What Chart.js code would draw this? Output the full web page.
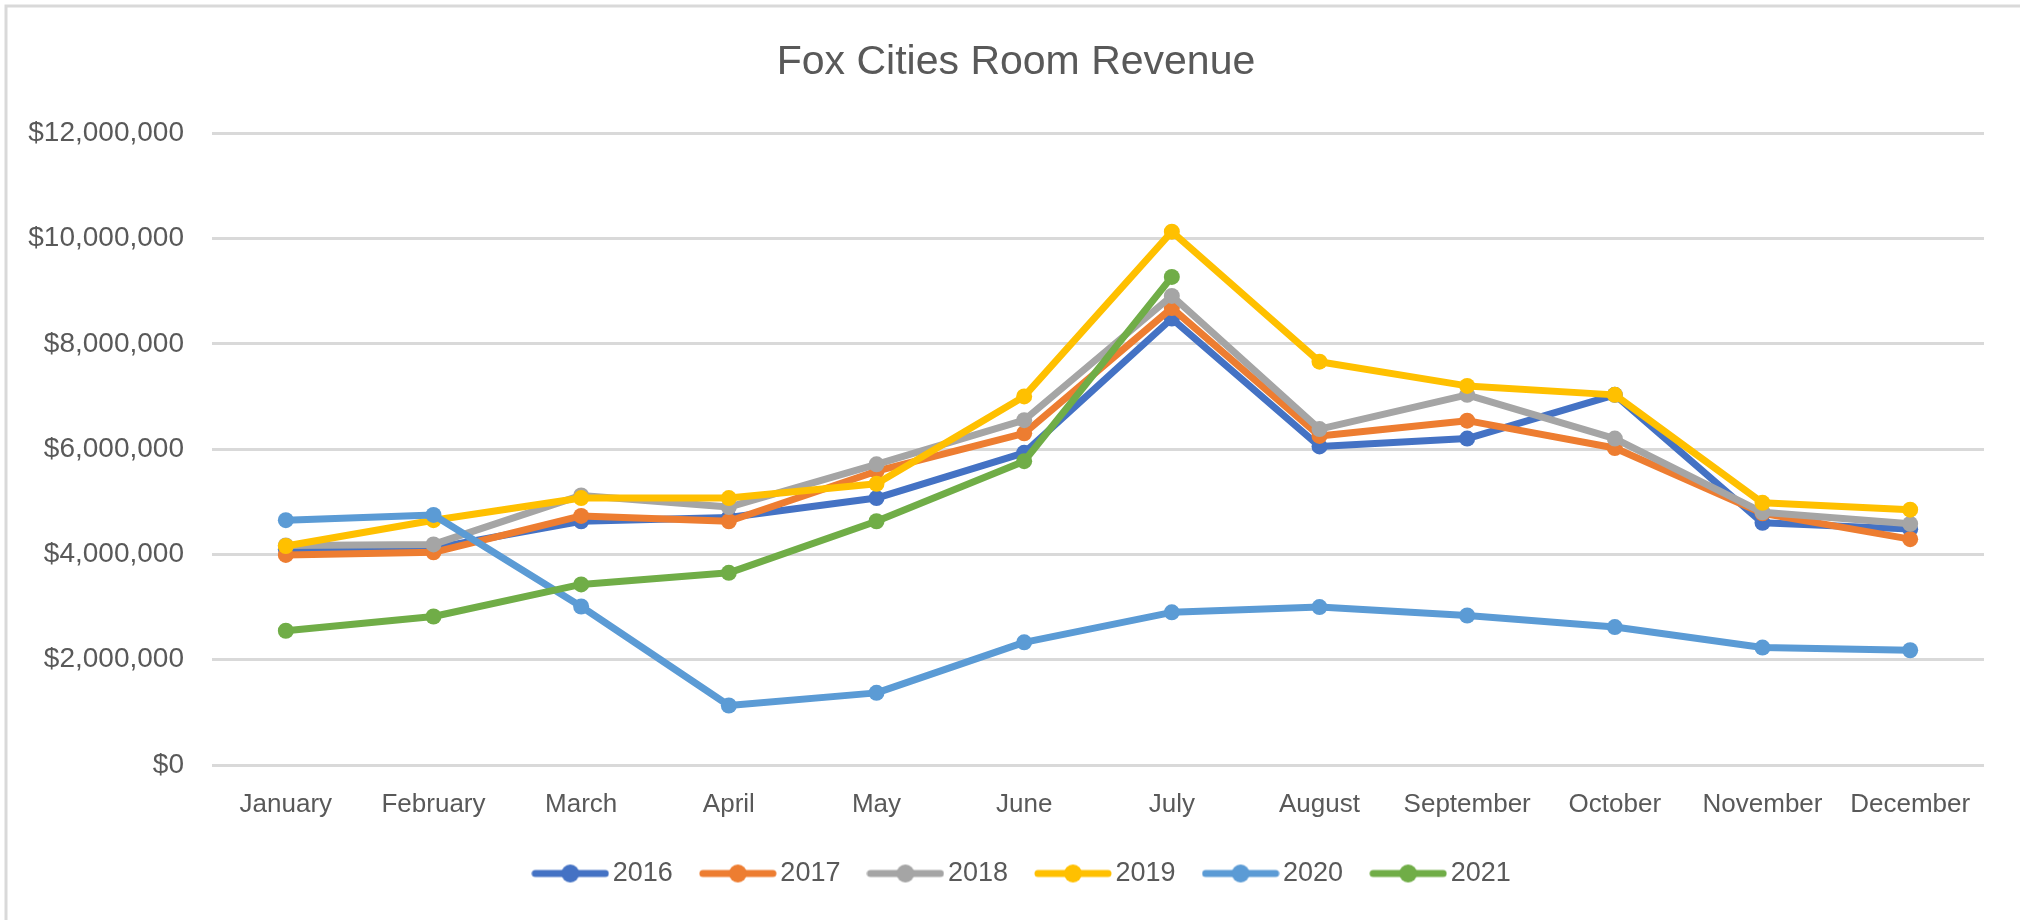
<!DOCTYPE html>
<html>
<head>
<meta charset="utf-8">
<script src="https://cdn.jsdelivr.net/npm/chart.js@4"></script>
<style>
  html, body { margin: 0; padding: 0; background: #fff; }
  #wrap { width: 2020px; height: 920px; }
</style>
</head>
<body>
<div id="wrap"><canvas id="revenue" width="2020" height="920"></canvas></div>
<script>
const months = ["January", "February", "March", "April", "May", "June",
  "July", "August", "September", "October", "November", "December"];

const rev2016 = [4100000, 4120000, 4630000, 4700000, 5070000, 5930000, 8480000, 6050000, 6200000, 7030000, 4600000, 4480000];
const rev2017 = [3990000, 4040000, 4730000, 4630000, 5580000, 6300000, 8680000, 6250000, 6540000, 6020000, 4780000, 4290000];
const rev2018 = [4170000, 4190000, 5120000, 4900000, 5710000, 6550000, 8910000, 6380000, 7030000, 6200000, 4800000, 4580000];
const rev2019 = [4160000, 4650000, 5070000, 5070000, 5340000, 7000000, 10130000, 7660000, 7200000, 7030000, 4980000, 4850000];
const rev2020 = [4650000, 4750000, 3010000, 1130000, 1370000, 2330000, 2900000, 3000000, 2840000, 2620000, 2230000, 2180000];
const rev2021 = [2550000, 2820000, 3430000, 3650000, 4630000, 5770000, 9270000, null, null, null, null, null];

const years = ["2016", "2017", "2018", "2019", "2020", "2021"];
const colors = ["#4472C4", "#ED7D31", "#A5A5A5", "#FFC000", "#5B9BD5", "#70AD47"];
const series = [rev2016, rev2017, rev2018, rev2019, rev2020, rev2021];

const textColor = "#595959";
const fontFamily = "'Liberation Sans', Arial, sans-serif";

// legend marker: short line with a dot in the middle
function legendMark(color) {
  const c = document.createElement("canvas");
  c.width = 78;
  c.height = 22;
  const g = c.getContext("2d");
  g.strokeStyle = color;
  g.lineWidth = 7;
  g.lineCap = "round";
  g.beginPath();
  g.moveTo(4, 11);
  g.lineTo(74, 11);
  g.stroke();
  g.fillStyle = color;
  g.beginPath();
  g.arc(39, 11, 9, 0, Math.PI * 2);
  g.fill();
  return c;
}

// outer frame (top and left edges only, like the cropped Excel chart)
const frame = {
  id: "frame",
  afterLayout(chart) {
    // Excel centres title and legend on the whole chart box, not the padded one
    chart.titleBlock.left += 24;
    chart.titleBlock.right += 24;
    chart.legend.left += 34;
    chart.legend.right += 34;
  },
  beforeDraw(chart) {
    const g = chart.ctx;
    g.save();
    g.fillStyle = "#fff";
    g.fillRect(0, 0, chart.width, chart.height);
    g.strokeStyle = "#d9d9d9";
    g.lineWidth = 3;
    g.beginPath();
    g.moveTo(6, chart.height);
    g.lineTo(6, 6);
    g.lineTo(chart.width, 6);
    g.stroke();
    g.restore();
  }
};

const ctx = document.getElementById("revenue");

new Chart(ctx, {
  type: "line",
  data: {
    labels: months,
    datasets: years.map((y, i) => ({
      label: y,
      data: series[i],
      borderColor: colors[i],
      backgroundColor: colors[i],
      borderWidth: 7,
      pointRadius: 8,
      pointHoverRadius: 8,
      pointBorderWidth: 0,
      pointStyle: "circle",
      tension: 0,
      borderJoinStyle: "round",
      borderCapStyle: "round",
      spanGaps: false,
      order: 5 - i,
      legendMark: legendMark(colors[i]),
    })),
  },
  options: {
    responsive: false,
    animation: false,
    layout: {
      padding: { top: 38, right: 36, bottom: 23, left: 0 },
    },
    plugins: {
      tooltip: { enabled: false },
      title: {
        display: true,
        text: "Fox Cities Room Revenue",
        color: textColor,
        font: { family: fontFamily, size: 41, weight: "normal", lineHeight: 1.2 },
        padding: { top: 0, bottom: 46 },
      },
      legend: {
        display: true,
        position: "bottom",
        labels: {
          usePointStyle: true,
          pointStyleWidth: 58,
          boxHeight: 22,
          padding: 36,
          color: textColor,
          font: { family: fontFamily, size: 27 },
          sort: (a, b) => a.datasetIndex - b.datasetIndex,
          generateLabels(chart) {
            return chart.data.datasets.map((ds, i) => ({
              text: ds.label,
              datasetIndex: i,
              fillStyle: ds.borderColor,
              strokeStyle: ds.borderColor,
              lineWidth: 0,
              pointStyle: ds.legendMark,
              fontColor: textColor,
              hidden: false,
            }));
          },
        },
      },
    },
    scales: {
      x: {
        offset: true,
        grid: { display: false, drawTicks: false },
        border: { display: false },
        ticks: {
          color: textColor,
          padding: 24,
          maxRotation: 0,
          autoSkip: false,
          font: { family: fontFamily, size: 26 },
        },
        afterFit(scale) { scale.height = 59; },
      },
      y: {
        min: 0,
        max: 12000000,
        grid: { color: "#d9d9d9", lineWidth: 3, drawTicks: false },
        border: { display: false },
        ticks: {
          stepSize: 2000000,
          color: textColor,
          padding: 28,
          font: { family: fontFamily, size: 28 },
          callback: (v) => "$" + Number(v).toLocaleString("en-US"),
        },
        afterFit(scale) { scale.width = 212; },
      },
    },
  },
  plugins: [frame],
});
</script>
</body>
</html>
